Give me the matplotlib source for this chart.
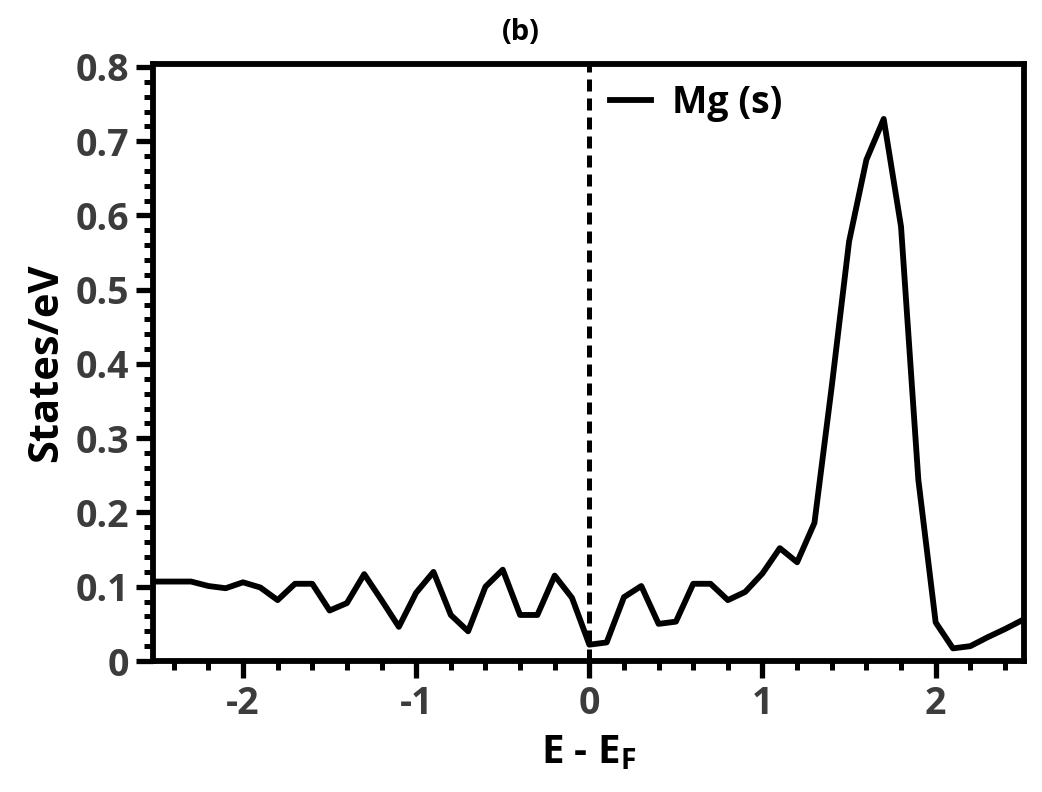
import numpy as np
import matplotlib
matplotlib.use("Agg")
import matplotlib.pyplot as plt
from matplotlib.ticker import MultipleLocator

# Mg s-projected DOS
energy = [-2.5, -2.4, -2.3, -2.2, -2.1, -2.0, -1.9, -1.8, -1.7, -1.6,
          -1.5, -1.4, -1.3, -1.2, -1.1, -1.0, -0.9, -0.8, -0.7, -0.6,
          -0.5, -0.4, -0.3, -0.2, -0.1, 0.0, 0.1, 0.2, 0.3, 0.4,
          0.5, 0.6, 0.7, 0.8, 0.9, 1.0, 1.1, 1.2, 1.3, 1.4,
          1.5, 1.6, 1.7, 1.8, 1.9, 2.0, 2.1, 2.2, 2.3, 2.4, 2.5]
dos_mg_s = [0.107, 0.107, 0.107, 0.101, 0.098, 0.106, 0.099, 0.082, 0.104, 0.104,
            0.068, 0.078, 0.117, 0.082, 0.046, 0.092, 0.120, 0.062, 0.040, 0.100,
            0.123, 0.062, 0.062, 0.115, 0.085, 0.022, 0.025, 0.086, 0.101, 0.050,
            0.053, 0.104, 0.104, 0.082, 0.093, 0.118, 0.152, 0.133, 0.186, 0.370,
            0.565, 0.675, 0.730, 0.585, 0.244, 0.052, 0.017, 0.020, 0.032, 0.043, 0.055]

plt.rcParams['font.family'] = ['Open Sans', 'DejaVu Sans']
plt.rcParams['font.weight'] = 'bold'
plt.rcParams['axes.unicode_minus'] = False
plt.rcParams['mathtext.fontset'] = 'custom'
plt.rcParams['mathtext.rm'] = 'Open Sans:bold'
plt.rcParams['mathtext.default'] = 'rm'

fig = plt.figure(figsize=(10.42, 7.92), dpi=100)
ax = fig.add_axes([0.1468, 0.1654, 0.8359, 0.7538])

ax.plot(energy, dos_mg_s, color="black", linewidth=4.2, label="Mg (s)")
ax.axvline(0, color="black", linestyle=(0, (2.4, 1.4)), linewidth=3.6)

ax.set_xlim(-2.52, 2.51)
ax.set_ylim(0, 0.804)
ax.xaxis.set_major_locator(MultipleLocator(1))
ax.xaxis.set_minor_locator(MultipleLocator(0.2))
ax.yaxis.set_minor_locator(MultipleLocator(0.02))
ax.set_yticks(np.arange(0, 0.81, 0.1))
ax.set_yticklabels(["0"] + [f"{v:.1f}" for v in np.arange(0.1, 0.81, 0.1)])

for s in ax.spines.values():
    s.set_linewidth(4.2)
ax.tick_params(which="both", direction="out", top=False, right=False,
               colors="black", labelcolor="#3c3c3c", labelsize=27)
ax.tick_params(which="major", length=12, width=3.8, pad=5)
ax.tick_params(which="minor", length=6.5, width=3.6)

ax.set_xlabel("E - E$_F$", fontsize=29, fontweight="bold", labelpad=8)
ax.set_ylabel("States/eV", fontsize=30, fontweight="bold", labelpad=6)
fig.text(0.5, 1 - 33 / 792, "(b)", fontsize=21, fontweight="bold",
         ha="center", va="center")

ax.legend(loc="center left", bbox_to_anchor=(0.525, 0.935), frameon=False,
          fontsize=27, handlelength=1.1, handletextpad=0.55,
          borderpad=0, borderaxespad=0)

fig.savefig("out.png", dpi=100)
